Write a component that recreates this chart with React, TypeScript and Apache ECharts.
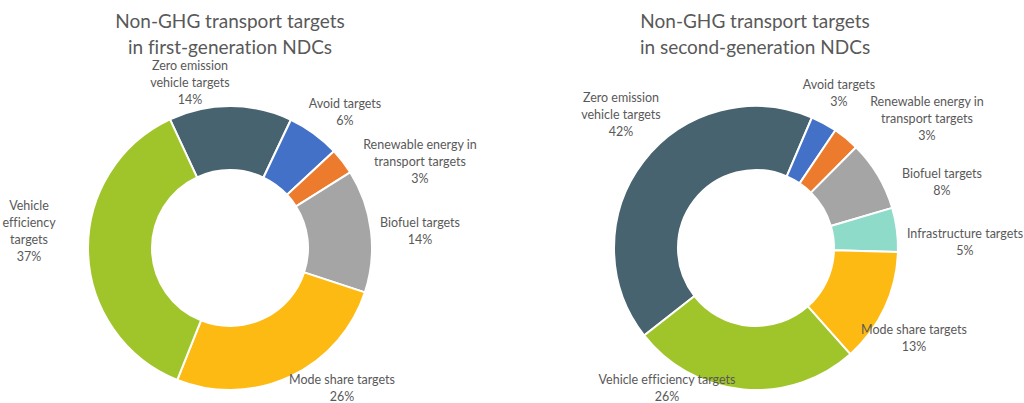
import React, { useEffect, useRef } from "react";
import * as echarts from "echarts";

const titles = [
  "Non-GHG transport targets\nin first-generation NDCs",
  "Non-GHG transport targets\nin second-generation NDCs",
];

// First-generation NDCs
const firstCategories = [
  "Zero emission vehicle targets",
  "Avoid targets",
  "Renewable energy in transport targets",
  "Biofuel targets",
  "Mode share targets",
  "Vehicle efficiency targets",
];
const firstLabels = [
  "Zero emission\nvehicle targets",
  "Avoid targets",
  "Renewable energy in\ntransport targets",
  "Biofuel targets",
  "Mode share targets",
  "Vehicle\nefficiency\ntargets",
];
const firstValues = [14, 6, 3, 14, 26, 37];
const firstColors = ["#47636f", "#4471c8", "#ed7b2d", "#a5a5a5", "#fdba12", "#a0c52a"];

// Second-generation NDCs
const secondCategories = [
  "Zero emission vehicle targets",
  "Avoid targets",
  "Renewable energy in transport targets",
  "Biofuel targets",
  "Infrastructure targets",
  "Mode share targets",
  "Vehicle efficiency targets",
];
const secondLabels = [
  "Zero emission\nvehicle targets",
  "Avoid targets",
  "Renewable energy in\ntransport targets",
  "Biofuel targets",
  "Infrastructure targets",
  "Mode share targets",
  "Vehicle efficiency targets",
];
const secondValues = [42, 3, 3, 8, 5, 13, 26];
const secondColors = ["#47636f", "#4471c8", "#ed7b2d", "#a5a5a5", "#8edbc9", "#fdba12", "#a0c52a"];

// Label anchor positions (text block centres), in pixels
const firstLabelPos = [
  [190, 82],
  [345, 112],
  [420, 161],
  [420, 231],
  [342, 388],
  [29, 231],
];
const secondLabelPos = [
  [621, 114],
  [839, 93],
  [927, 118],
  [942, 182],
  [965, 242],
  [914, 338],
  [667, 388],
];

const FONT = "Lato, 'Open Sans', sans-serif";
const TEXT = "#595959";

function makeSeries(
  categories: string[],
  values: number[],
  colors: string[],
  labels: string[],
  pos: number[][],
  center: [number, number],
  startAngle: number
) {
  return {
    type: "pie",
    center,
    radius: [78, 142],
    startAngle,
    clockwise: true,
    avoidLabelOverlap: false,
    itemStyle: { borderColor: "#ffffff", borderWidth: 2 },
    labelLine: { show: false },
    label: {
      show: true,
      position: "outside",
      formatter: (p: any) => labels[p.dataIndex] + "\n" + p.value + "%",
      color: TEXT,
      fontFamily: FONT,
      fontSize: 12.5,
      lineHeight: 17,
      align: "center",
    },
    labelLayout: (p: any) => ({
      x: pos[p.dataIndex][0],
      y: pos[p.dataIndex][1],
      align: "center",
      verticalAlign: "middle",
    }),
    emphasis: { disabled: true },
    data: categories.map((name, i) => ({
      name,
      value: values[i],
      itemStyle: { color: colors[i] },
    })),
  };
}

export default function App() {
  const ref = useRef<HTMLDivElement>(null);
  useEffect(() => {
    if (!ref.current) return;
    const chart = echarts.init(ref.current, undefined, { renderer: "svg" });
    const titleStyle = {
      color: TEXT,
      fontFamily: FONT,
      fontSize: 19,
      fontWeight: "normal",
      lineHeight: 26,
    };
    chart.setOption({
      animation: false,
      backgroundColor: "#ffffff",
      title: [
        { text: titles[0], left: 230, top: 7, padding: 0, textAlign: "center", textStyle: titleStyle },
        { text: titles[1], left: 755, top: 7, padding: 0, textAlign: "center", textStyle: titleStyle },
      ],
      series: [
        makeSeries(firstCategories, firstValues, firstColors, firstLabels, firstLabelPos, [230, 248], 115),
        makeSeries(secondCategories, secondValues, secondColors, secondLabels, secondLabelPos, [756, 248], 218),
      ],
    });
    return () => chart.dispose();
  }, []);
  return (
    <>
      <style>{"svg text { font-variant-ligatures: none; font-feature-settings: 'liga' 0; }"}</style>
      <div
        ref={ref}
        style={{ position: "fixed", left: 0, top: 0, width: 1024, height: 403 }}
      />
    </>
  );
}
